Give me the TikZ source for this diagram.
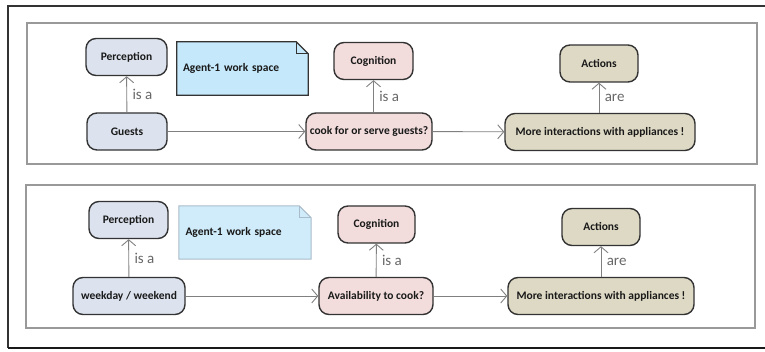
\documentclass[tikz,border=0pt]{standalone}
\usepackage{fontspec}
\setmainfont{Carlito}
\usepackage{xcolor}
\usetikzlibrary{arrows.meta, positioning, calc, backgrounds}

\definecolor{percfill}{HTML}{DCE3EE}
\definecolor{cogfill}{HTML}{F2DCDC}
\definecolor{actfill}{HTML}{DDD9C4}
\definecolor{notefill}{HTML}{C5E8FB}
\definecolor{notefillb}{HTML}{D0ECFA}
\definecolor{noteedge}{HTML}{A9BCCB}
\definecolor{boxedge}{HTML}{333333}
\definecolor{linkgray}{HTML}{808080}

\tikzset{
  concept/.style={rectangle, rounded corners=10pt, draw=boxedge, line width=1.4pt,
    minimum height=37pt, inner sep=2pt, font=\fontsize{11.5}{13}\selectfont\bfseries, text=black!90},
  perc/.style={concept, fill=percfill},
  cog/.style={concept, fill=cogfill},
  act/.style={concept, fill=actfill},
  notebox/.style={minimum height=53pt, text width=119pt, inner sep=6pt, align=left,
    font=\fontsize{11.5}{13}\selectfont\bfseries, text=black!90},
  panel/.style={draw=gray!80, line width=1.3pt},
  link/.style={draw=linkgray, line width=0.9pt, -{Straight Barb[length=6pt,width=14pt]}},
  linklabel/.style={text=linkgray!80!black, font=\fontsize{15}{17}\selectfont}
}

\begin{document}
\begin{tikzpicture}[x=1pt, y=-1pt]
    \useasboundingbox (0,0) rectangle (765,352);

    % outer frame, open to the right
    \draw [black!80, line width=1.2pt] (765,6) -- (8,6) -- (8,348);
    \draw [black!90, line width=2pt] (8,348) -- (765,348);

    % panels
    \draw [panel] (27,23) rectangle (757,164);
    \draw [panel] (26,185) rectangle (755,328);

    % upper panel
    \node (perc1) [perc, minimum width=81pt] at (126.5,57) {Perception};
    \node (guests) [perc, minimum width=80pt] at (127,131.5) {Guests};
    \node (note1) [notebox, minimum width=131pt] at (242.5,68.5) {Agent-1 work space};
    \node (cog1) [cog, minimum width=79pt] at (373.5,61) {Cognition};
    \node (serve) [cog, minimum width=126pt] at (369,131.5) {cook for or serve guests?};
    \node (act1) [act, minimum width=78pt] at (599,63.5) {Actions};
    \node (more1) [act, minimum width=190pt] at (600,132) {More interactions with appliances !};

    \begin{scope}[on background layer]
        \filldraw [fill=notefill, draw=boxedge, line width=1.2pt]
            (note1.north west) -- ($(note1.north east)+(-12,0)$) -- ($(note1.north east)+(0,12)$)
            -- (note1.south east) -- (note1.south west) -- cycle;
        \draw [boxedge, line width=1.2pt] ($(note1.north east)+(-12,0)$) |- ($(note1.north east)+(0,12)$);
    \end{scope}

    \draw [link] (guests) -- node[linklabel, right=2pt] {is a} (perc1);
    \draw [link] (guests) -- (serve);
    \draw [link] (cog1 |- serve.north) -- node[linklabel, right=2pt] {is a} (cog1);
    \draw [link] (serve) -- (more1);
    \draw [link] (act1 |- more1.north) -- node[linklabel, right=2pt] {are} (act1);

    % lower panel
    \node (perc2) [perc, minimum width=79pt] at (128.5,220) {Perception};
    \node (week) [perc, minimum width=112pt] at (129,296) {weekday / weekend};
    \node (note2) [notebox, minimum width=132pt] at (245,232.5) {Agent-1 work space};
    \node (cog2) [cog, minimum width=77pt] at (376.5,224.5) {Cognition};
    \node (avail) [cog, minimum width=114pt] at (376,296) {Availability to cook?};
    \node (act2) [act, minimum width=78pt] at (601,227) {Actions};
    \node (more2) [act, minimum width=186pt] at (601,296) {More interactions with appliances !};

    \begin{scope}[on background layer]
        \filldraw [fill=notefillb, draw=noteedge, line width=1pt]
            (note2.north west) -- ($(note2.north east)+(-12,0)$) -- ($(note2.north east)+(0,12)$)
            -- (note2.south east) -- (note2.south west) -- cycle;
        \draw [noteedge, line width=1pt] ($(note2.north east)+(-12,0)$) |- ($(note2.north east)+(0,12)$);
    \end{scope}

    \draw [link] (week) -- node[linklabel, right=2pt] {is a} (perc2);
    \draw [link] (week) -- (avail);
    \draw [link] (avail) -- node[linklabel, right=2pt] {is a} (cog2);
    \draw [link] (avail) -- (more2);
    \draw [link] (more2) -- node[linklabel, right=2pt] {are} (act2);
\end{tikzpicture}
\end{document}
